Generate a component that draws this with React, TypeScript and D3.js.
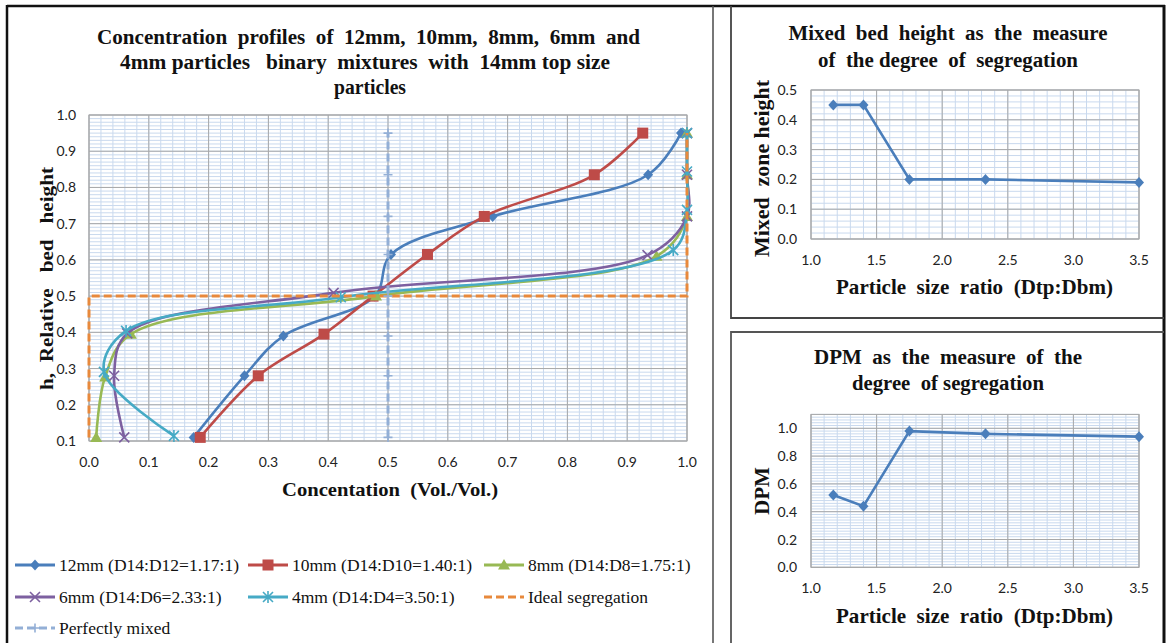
import React from "react";
import * as d3 from "d3";

// ---- Concentration profiles (x = concentration, y = relative bed height) ----
const conc12 = [0.175, 0.26, 0.325, 0.478, 0.505, 0.675, 0.935, 0.99];
const h12 = [0.11, 0.28, 0.39, 0.5, 0.615, 0.72, 0.835, 0.95];
const conc10 = [0.186, 0.283, 0.393, 0.475, 0.566, 0.661, 0.845, 0.926];
const h10 = [0.11, 0.28, 0.395, 0.5, 0.615, 0.72, 0.835, 0.95];
const conc8 = [0.012, 0.027, 0.07, 0.48, 0.949, 1.0, 1.0, 1.0];
const h8 = [0.11, 0.277, 0.395, 0.5, 0.61, 0.72, 0.835, 0.95];
const conc6 = [0.059, 0.042, 0.064, 0.409, 0.934, 1.0, 1.0, 1.0];
const h6 = [0.11, 0.28, 0.397, 0.509, 0.613, 0.72, 0.835, 0.95];
const conc4 = [0.142, 0.025, 0.062, 0.421, 0.977, 1.0, 1.0, 1.0];
const h4 = [0.114, 0.291, 0.404, 0.497, 0.627, 0.738, 0.844, 0.95];
const concIdeal = [0, 0, 1, 1];
const hIdeal = [0.11, 0.5, 0.5, 0.95];
const concMixed = [0.5, 0.5, 0.5, 0.5, 0.5, 0.5, 0.5, 0.5];
const hMixed = [0.11, 0.28, 0.39, 0.5, 0.615, 0.72, 0.835, 0.95];

const seriesLabels = [
  "12mm (D14:D12=1.17:1)",
  "10mm (D14:D10=1.40:1)",
  "8mm (D14:D8=1.75:1)",
  "6mm (D14:D6=2.33:1)",
  "4mm (D14:D4=3.50:1)",
  "Ideal segregation",
  "Perfectly mixed",
];
const concTicks = [0, 0.1, 0.2, 0.3, 0.4, 0.5, 0.6, 0.7, 0.8, 0.9, 1.0];
const heightTicks = [0.1, 0.2, 0.3, 0.4, 0.5, 0.6, 0.7, 0.8, 0.9, 1.0];

// ---- Segregation measures vs particle size ratio ----
const sizeRatio = [1.17, 1.4, 1.75, 2.33, 3.5];
const mixedZoneHeight = [0.45, 0.45, 0.2, 0.2, 0.19];
const dpmValues = [0.52, 0.44, 0.98, 0.96, 0.94];
const ratioTicks = [1.0, 1.5, 2.0, 2.5, 3.0, 3.5];
const mixedTicks = [0, 0.1, 0.2, 0.3, 0.4, 0.5];
const dpmTicks = [0, 0.2, 0.4, 0.6, 0.8, 1.0];

const SERIF = "'Liberation Serif', 'Times New Roman', serif";
const SANS = "Lato, 'Liberation Sans', sans-serif";
const C = {
  blue: "#4A7EBB",
  red: "#BE4B48",
  green: "#98B954",
  purple: "#7D60A0",
  teal: "#46AAC5",
  orange: "#E8893C",
  mixed: "#93AFD6",
  major: "#A8A8A8",
  minor: "#C9D9EE",
};

type Pt = [number, number];
const zip = (xs: number[], ys: number[]): Pt[] => xs.map((x, i) => [x, ys[i]]);

function Marker({ kind, x, y, color }: { kind: string; x: number; y: number; color: string }) {
  switch (kind) {
    case "diamond":
      return <path d={`M${x},${y - 5.5}L${x + 5},${y}L${x},${y + 5.5}L${x - 5},${y}Z`} fill={color} />;
    case "square":
      return <rect x={x - 5.5} y={y - 5.5} width={11} height={11} fill={color} />;
    case "triangle":
      return <path d={`M${x},${y - 6}L${x + 6},${y + 4.5}L${x - 6},${y + 4.5}Z`} fill={color} />;
    case "x":
      return (
        <path d={`M${x - 5},${y - 5}L${x + 5},${y + 5}M${x - 5},${y + 5}L${x + 5},${y - 5}`} stroke={color} strokeWidth={1.6} />
      );
    case "star":
      return (
        <path
          d={`M${x - 5},${y - 5}L${x + 5},${y + 5}M${x - 5},${y + 5}L${x + 5},${y - 5}M${x},${y - 6}L${x},${y + 6}`}
          stroke={color}
          strokeWidth={1.6}
        />
      );
    case "plus":
      return <path d={`M${x - 4.5},${y}L${x + 4.5},${y}M${x},${y - 4.5}L${x},${y + 4.5}`} stroke={color} strokeWidth={1.6} />;
    default:
      return null;
  }
}

function Grid({
  x,
  y,
  xMinor,
  yMinor,
  xMajor,
  yMajor,
}: {
  x: d3.ScaleLinear<number, number>;
  y: d3.ScaleLinear<number, number>;
  xMinor: number[];
  yMinor: number[];
  xMajor: number[];
  yMajor: number[];
}) {
  const [x0, x1] = x.range();
  const [y0, y1] = y.range();
  return (
    <g>
      {xMinor.map((v, i) => (
        <line key={"xm" + i} x1={x(v)} x2={x(v)} y1={y0} y2={y1} stroke={C.minor} strokeWidth={1} />
      ))}
      {yMinor.map((v, i) => (
        <line key={"ym" + i} x1={x0} x2={x1} y1={y(v)} y2={y(v)} stroke={C.minor} strokeWidth={1} />
      ))}
      {xMajor.map((v, i) => (
        <line key={"xM" + i} x1={x(v)} x2={x(v)} y1={y0} y2={y1} stroke={C.major} strokeWidth={1} />
      ))}
      {yMajor.map((v, i) => (
        <line key={"yM" + i} x1={x0} x2={x1} y1={y(v)} y2={y(v)} stroke={C.major} strokeWidth={1} />
      ))}
      <rect x={x0} y={Math.min(y0, y1)} width={x1 - x0} height={Math.abs(y0 - y1)} fill="none" stroke={C.major} />
    </g>
  );
}

const steps = (a: number, b: number, s: number) => {
  const out: number[] = [];
  const n = Math.round((b - a) / s);
  for (let i = 0; i <= n; i++) out.push(+(a + i * s).toFixed(4));
  return out;
};

// Bold serif heading text fitted to a given width
function Heading({
  x,
  y,
  len,
  size = 20,
  rotate = false,
  children,
}: {
  x: number;
  y: number;
  len: number;
  size?: number;
  rotate?: boolean;
  children: string;
}) {
  return (
    <text
      transform={rotate ? `translate(${x},${y}) rotate(-90)` : undefined}
      x={rotate ? 0 : x}
      y={rotate ? 0 : y}
      textAnchor="middle"
      fontFamily={SERIF}
      fontWeight="bold"
      fontSize={size}
      fill="#111"
      textLength={len}
      lengthAdjust="spacingAndGlyphs"
      style={{ whiteSpace: "pre" }}
    >
      {children}
    </text>
  );
}

function MainChart() {
  const x = d3.scaleLinear().domain([0, 1]).range([89, 687]);
  const y = d3.scaleLinear().domain([0.1, 1]).range([441, 115]);
  const smooth = d3
    .line<Pt>()
    .x((d) => x(d[0]))
    .y((d) => y(d[1]))
    .curve(d3.curveCatmullRom.alpha(0.5));
  const straight = d3
    .line<Pt>()
    .x((d) => x(d[0]))
    .y((d) => y(d[1]));

  const series = [
    { pts: zip(conc12, h12), color: C.blue, marker: "diamond" },
    { pts: zip(conc10, h10), color: C.red, marker: "square" },
    { pts: zip(conc8, h8), color: C.green, marker: "triangle" },
    { pts: zip(conc6, h6), color: C.purple, marker: "x" },
    { pts: zip(conc4, h4), color: C.teal, marker: "star" },
  ];
  const ideal = zip(concIdeal, hIdeal);
  const mixed = zip(concMixed, hMixed);

  return (
    <g>
      <Heading x={368.5} y={44} len={543}>Concentration  profiles  of  12mm,  10mm,  8mm,  6mm  and</Heading>
      <Heading x={365} y={69} len={490}>4mm particles   binary  mixtures  with  14mm top size</Heading>
      <Heading x={370} y={94} len={72}>particles</Heading>
      <Grid
        x={x}
        y={y}
        xMinor={steps(0, 1, 0.02)}
        yMinor={steps(0.1, 1, 0.01)}
        xMajor={concTicks}
        yMajor={heightTicks}
      />
      {heightTicks.map((t) => (
        <text key={"yt" + t} x={76} y={y(t) + 5} textAnchor="end" fontFamily={SANS} fontSize={14} fill="#222">
          {t.toFixed(1)}
        </text>
      ))}
      {concTicks.map((t) => (
        <text key={"xt" + t} x={x(t)} y={467} textAnchor="middle" fontFamily={SANS} fontSize={14} fill="#222">
          {t.toFixed(1)}
        </text>
      ))}
      <Heading x={390} y={496} len={216} size={19}>Concentation  (Vol./Vol.)</Heading>
      <Heading x={53} y={278.5} len={223} size={19} rotate>
        h,  Relative   bed   height
      </Heading>

      {series.map((s, i) => (
        <g key={"s" + i}>
          <path d={smooth(s.pts) || ""} fill="none" stroke={s.color} strokeWidth={2.6} />
          {s.pts.map((p, j) => (
            <Marker key={j} kind={s.marker} x={x(p[0])} y={y(p[1])} color={s.color} />
          ))}
        </g>
      ))}
      <path d={straight(ideal) || ""} fill="none" stroke={C.orange} strokeWidth={3} strokeDasharray="8,4" />
      <path d={straight(mixed) || ""} fill="none" stroke={C.mixed} strokeWidth={3} strokeDasharray="8,4" />
      {mixed.map((p, j) => (
        <Marker key={"pm" + j} kind="plus" x={x(p[0])} y={y(p[1])} color={C.mixed} />
      ))}

      <Legend />
    </g>
  );
}

function Legend() {
  const rows = [565, 597, 628];
  const cols = [15, 248, 484];
  const items = [
    { color: C.blue, marker: "diamond", dash: undefined, col: 0, row: 0 },
    { color: C.red, marker: "square", dash: undefined, col: 1, row: 0 },
    { color: C.green, marker: "triangle", dash: undefined, col: 2, row: 0 },
    { color: C.purple, marker: "x", dash: undefined, col: 0, row: 1 },
    { color: C.teal, marker: "star", dash: undefined, col: 1, row: 1 },
    { color: C.orange, marker: "", dash: "8,4", col: 2, row: 1 },
    { color: C.mixed, marker: "plus", dash: "8,4", col: 0, row: 2 },
  ];
  return (
    <g>
      {items.map((it, i) => {
        const x0 = cols[it.col];
        const yy = rows[it.row];
        return (
          <g key={"lg" + i}>
            <line x1={x0} x2={x0 + 40} y1={yy} y2={yy} stroke={it.color} strokeWidth={3} strokeDasharray={it.dash} />
            {it.marker && <Marker kind={it.marker} x={x0 + 20} y={yy} color={it.color} />}
            <text x={x0 + 44} y={yy + 6} fontFamily={SERIF} fontSize={17.5} fill="#111">
              {seriesLabels[i]}
            </text>
          </g>
        );
      })}
    </g>
  );
}

function SideChart({
  values,
  yMax,
  yTicks,
  yMinorStep,
  top,
  bottom,
  title,
  titleY,
  titleLen,
  yTitle,
  yTitleLen,
  yTitleMid,
  xLabelY,
  xTitleY,
}: {
  values: number[];
  yMax: number;
  yTicks: number[];
  yMinorStep: number;
  top: number;
  bottom: number;
  title: string[];
  titleY: number[];
  titleLen: number[];
  yTitle: string;
  yTitleLen: number;
  yTitleMid: number;
  xLabelY: number;
  xTitleY: number;
}) {
  const x = d3.scaleLinear().domain([1, 3.5]).range([811, 1139]);
  const y = d3.scaleLinear().domain([0, yMax]).range([bottom, top]);
  const line = d3
    .line<Pt>()
    .x((d) => x(d[0]))
    .y((d) => y(d[1]));
  const pts = zip(sizeRatio, values);
  return (
    <g>
      {title.map((t, i) => (
        <Heading key={i} x={948} y={titleY[i]} len={titleLen[i]}>
          {t}
        </Heading>
      ))}
      <Grid
        x={x}
        y={y}
        xMinor={steps(1, 3.5, 0.1)}
        yMinor={steps(0, yMax, yMinorStep)}
        xMajor={ratioTicks}
        yMajor={yTicks}
      />
      {yTicks.map((t) => (
        <text key={"yt" + t} x={797} y={y(t) + 5} textAnchor="end" fontFamily={SANS} fontSize={14} fill="#222">
          {t.toFixed(1)}
        </text>
      ))}
      {ratioTicks.map((t) => (
        <text key={"xt" + t} x={x(t)} y={xLabelY} textAnchor="middle" fontFamily={SANS} fontSize={14} fill="#222">
          {t.toFixed(1)}
        </text>
      ))}
      <Heading x={974.5} y={xTitleY} len={277} size={21}>Particle  size  ratio  (Dtp:Dbm)</Heading>
      <Heading x={769} y={yTitleMid} len={yTitleLen} size={21} rotate>
        {yTitle}
      </Heading>
      <path d={line(pts) || ""} fill="none" stroke={C.blue} strokeWidth={2.6} />
      {pts.map((p, j) => (
        <Marker key={j} kind="diamond" x={x(p[0])} y={y(p[1])} color={C.blue} />
      ))}
    </g>
  );
}

export default function App() {
  return (
    <svg
      width={1169}
      height={643}
      viewBox="0 0 1169 643"
      style={{ position: "absolute", left: 0, top: 0, background: "#fff" }}
    >
      <rect x={0} y={0} width={1169} height={643} fill="#fff" />
      {/* frames */}
      <line x1={7} x2={1165} y1={6} y2={6} stroke="#111" strokeWidth={2.5} />
      <line x1={7} x2={7} y1={5} y2={643} stroke="#111" strokeWidth={2.5} />
      <line x1={1164} x2={1164} y1={5} y2={643} stroke="#111" strokeWidth={3} />
      <line x1={713} x2={713} y1={6} y2={643} stroke="#555" strokeWidth={1.6} />
      <path d="M731,6V318H1164" fill="none" stroke="#444" strokeWidth={1.8} />
      <path d="M731,643V332H1164" fill="none" stroke="#555" strokeWidth={1.8} />

      <MainChart />
      <SideChart
        values={mixedZoneHeight}
        yMax={0.5}
        yTicks={mixedTicks}
        yMinorStep={0.02}
        top={90}
        bottom={239}
        title={["Mixed  bed  height  as  the  measure", "of  the degree  of  segregation"]}
        titleY={[40, 67]}
        titleLen={[319, 260]}
        yTitle="Mixed  zone height"
        yTitleLen={177}
        yTitleMid={168.5}
        xLabelY={265}
        xTitleY={294}
      />
      <SideChart
        values={dpmValues}
        yMax={1.1}
        yTicks={dpmTicks}
        yMinorStep={0.02}
        top={414.4}
        bottom={567.3}
        title={["DPM  as  the  measure  of  the", "degree  of segregation"]}
        titleY={[364, 390]}
        titleLen={[268, 192]}
        yTitle="DPM"
        yTitleLen={48}
        yTitleMid={491}
        xLabelY={593}
        xTitleY={623}
      />
    </svg>
  );
}
